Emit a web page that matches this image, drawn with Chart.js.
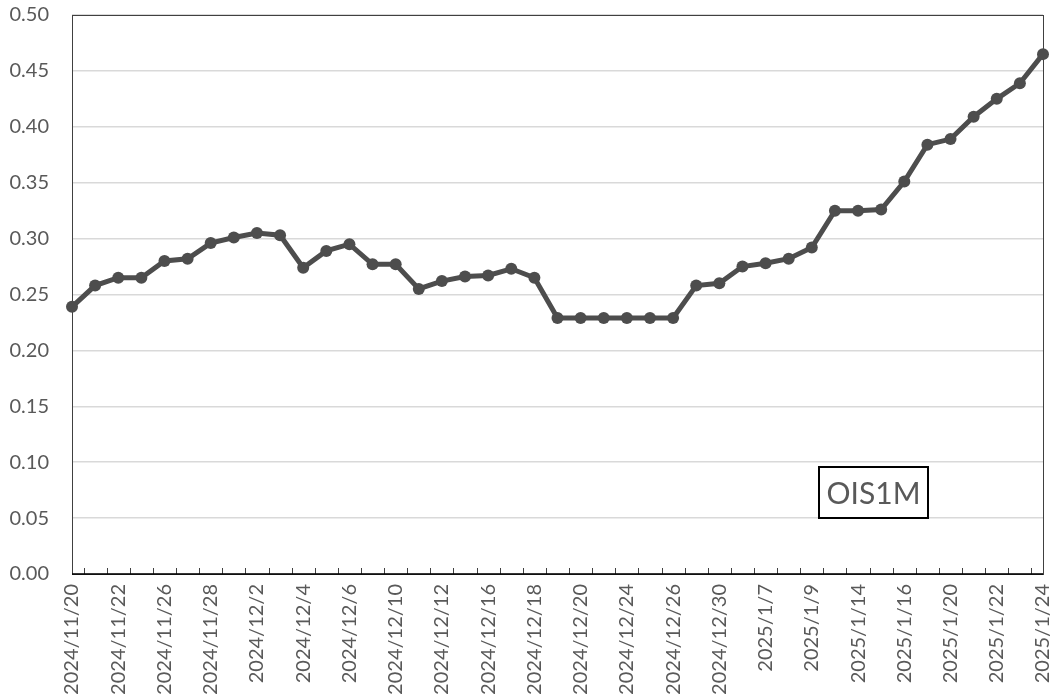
<!DOCTYPE html>
<html>
<head>
<meta charset="utf-8">
<script src="https://cdn.jsdelivr.net/npm/chart.js@4/dist/chart.umd.min.js"></script>
<style>
html,body{margin:0;padding:0;background:#fff;}
#wrap{width:1054px;height:697px;position:relative;}
</style>
</head>
<body>
<div id="wrap"><canvas id="c" width="1054" height="697"></canvas></div>
<script>
const categories = ['2024/11/20','2024/11/21','2024/11/22','2024/11/25','2024/11/26','2024/11/27','2024/11/28','2024/11/29',
'2024/12/2','2024/12/3','2024/12/4','2024/12/5','2024/12/6','2024/12/9','2024/12/10','2024/12/11','2024/12/12','2024/12/13',
'2024/12/16','2024/12/17','2024/12/18','2024/12/19','2024/12/20','2024/12/23','2024/12/24','2024/12/25','2024/12/26','2024/12/27',
'2024/12/30','2025/1/6','2025/1/7','2025/1/8','2025/1/9','2025/1/10','2025/1/14','2025/1/15','2025/1/16','2025/1/17',
'2025/1/20','2025/1/21','2025/1/22','2025/1/23','2025/1/24'];
const ois1m = [0.239,0.258,0.265,0.265,0.280,0.282,0.296,0.301,0.305,0.303,0.274,0.289,0.295,0.277,0.277,0.255,0.262,0.266,0.267,0.273,0.265,
0.229,0.229,0.229,0.229,0.229,0.229,0.258,0.260,0.275,0.278,0.282,0.292,0.325,0.325,0.326,0.351,0.384,0.389,0.409,0.425,0.439,0.465];
const yTicks = [0.00,0.05,0.10,0.15,0.20,0.25,0.30,0.35,0.40,0.45,0.50];
const seriesName = 'OIS1M';

const FONT = 'Lato, "Open Sans", sans-serif';
const TXT = '#595959';

const framePlugin = {
  id: 'frame',
  beforeDatasetsDraw(chart) {
    const {ctx, chartArea: a, scales: {x}} = chart;
    ctx.save();
    // inner tick marks between categories
    ctx.strokeStyle = '#404040';
    ctx.lineWidth = 1;
    ctx.beginPath();
    for (let i = 0; i < categories.length - 1; i++) {
      const px = Math.round((x.getPixelForValue(i) + x.getPixelForValue(i + 1)) / 2) + 0.5;
      ctx.moveTo(px, a.bottom);
      ctx.lineTo(px, a.bottom - 6);
    }
    ctx.stroke();
    // plot border
    ctx.strokeStyle = '#404040';
    ctx.strokeRect(Math.round(a.left) + 0.5, Math.round(a.top) + 0.5, Math.round(a.right - a.left), Math.round(a.bottom - a.top));
    ctx.beginPath();
    ctx.strokeStyle = '#000';
    ctx.lineWidth = 1.5;
    ctx.moveTo(a.left, a.bottom);
    ctx.lineTo(a.right, a.bottom);
    ctx.stroke();
    ctx.restore();
  },
  afterDraw(chart) {
    const {ctx, scales: {x, y}} = chart;
    const cx = x.getPixelForValue(0) + (x.getPixelForValue(1) - x.getPixelForValue(0)) * 34.67;
    const cy = y.getPixelForValue(0.0726);
    ctx.save();
    ctx.font = '30px ' + FONT;
    const w = 109, h = 51;
    ctx.fillStyle = '#fff';
    ctx.fillRect(cx - w / 2, cy - h / 2, w, h);
    ctx.strokeStyle = '#000';
    ctx.lineWidth = 2;
    ctx.strokeRect(Math.round(cx - w / 2), Math.round(cy - h / 2), w, h);
    ctx.fillStyle = TXT;
    ctx.textAlign = 'center';
    ctx.textBaseline = 'middle';
    ctx.fillText(seriesName, cx, cy + 1);
    ctx.restore();
  }
};

new Chart(document.getElementById('c'), {
  type: 'line',
  data: {
    labels: categories,
    datasets: [{
      label: seriesName,
      data: ois1m,
      borderColor: '#4d4d4d',
      backgroundColor: '#4d4d4d',
      borderWidth: 5,
      pointRadius: 6,
      pointHoverRadius: 6,
      pointBorderWidth: 0,
      tension: 0,
      clip: false
    }]
  },
  options: {
    responsive: false,
    animation: false,
    devicePixelRatio: 1,
    layout: { padding: 0 },
    plugins: { legend: { display: false }, tooltip: { enabled: false } },
    scales: {
      x: {
        type: 'category',
        offset: false,
        grid: { display: false, drawTicks: false },
        border: { display: false },
        ticks: {
          autoSkip: false,
          maxRotation: 90,
          minRotation: 90,
          padding: 10,
          color: TXT,
          font: { family: FONT, size: 20 },
          callback: function(v, i) { return i % 2 === 0 ? categories[i] : ''; }
        },
        afterFit(s) { s.height = 123; s.paddingLeft = 0; s.paddingRight = 11; }
      },
      y: {
        min: 0,
        max: 0.5,
        afterBuildTicks(s) { s.ticks = yTicks.map(v => ({ value: v })); },
        grid: { color: '#d9d9d9', lineWidth: 1.5, drawTicks: false },
        border: { display: false },
        ticks: {
          padding: 23,
          color: TXT,
          font: { family: FONT, size: 20 },
          callback: v => Number(v).toFixed(2)
        },
        afterFit(s) { s.width = 72; s.paddingTop = 15; s.paddingBottom = 0; }
      }
    }
  },
  plugins: [framePlugin]
});
</script>
</body>
</html>
